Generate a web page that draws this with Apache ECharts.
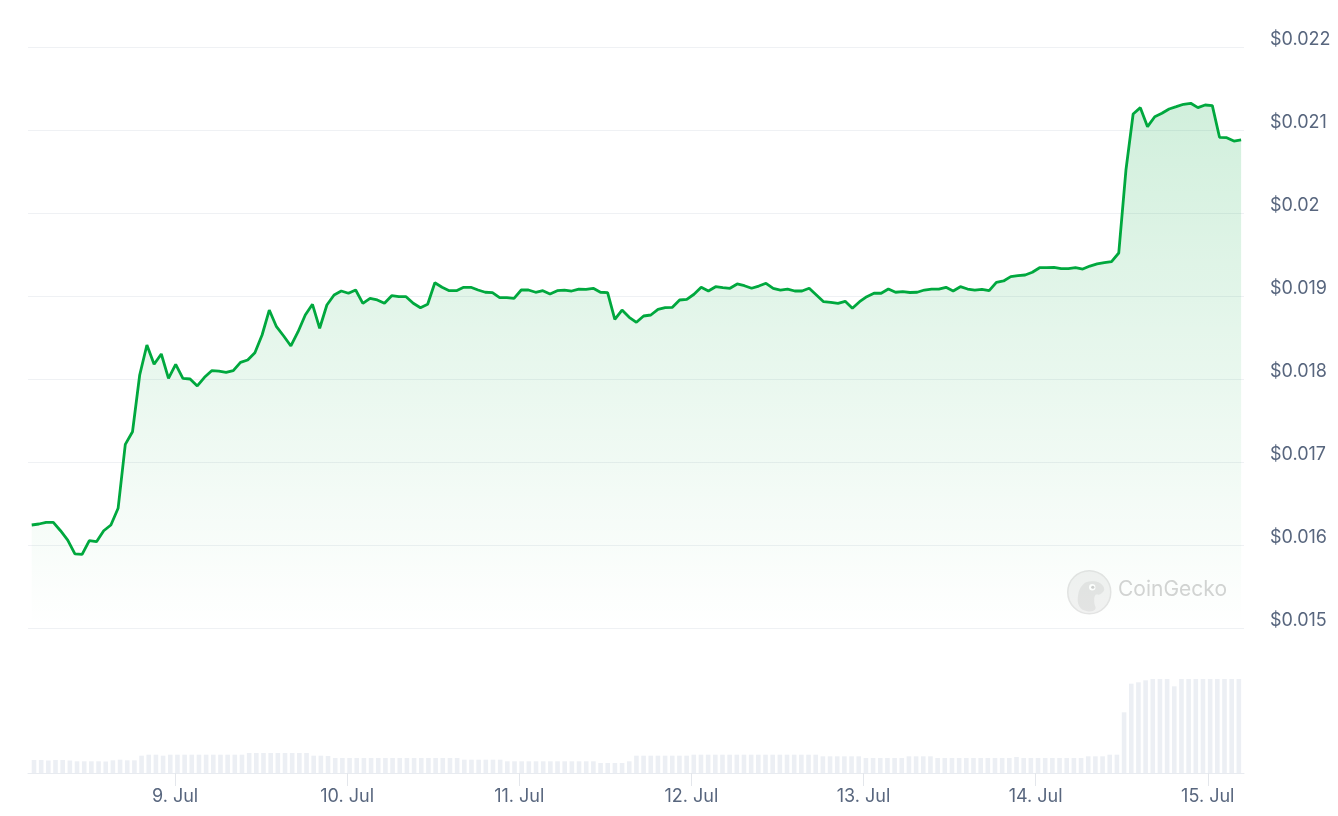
<!DOCTYPE html>
<html>
<head>
<meta charset="utf-8">
<script src="https://cdn.jsdelivr.net/npm/echarts@6/dist/echarts.min.js"></script>
<style>
  html, body { margin: 0; padding: 0; background: #ffffff; }
  #chart { width: 1338px; height: 816px; }
</style>
</head>
<body>
<div id="chart"></div>
<script>
// ---- Data (hourly, starting 8 Jul 04:20 UTC) ----
const startTime = Date.UTC(2024, 6, 8, 4, 20);
const hourMs = 3600 * 1000;

const prices = [
0.016241,0.016253,0.016273,0.016273,0.016172,0.016060,0.015892,0.015888,0.016052,0.016040,
0.016172,0.016241,0.016442,0.017213,0.017365,0.018048,0.018410,0.018177,0.018301,0.018008,
0.018177,0.018008,0.018000,0.017916,0.018020,0.018100,0.018096,0.018081,0.018100,0.018201,
0.018229,0.018317,0.018530,0.018831,0.018630,0.018518,0.018398,0.018570,0.018771,0.018900,
0.018611,0.018892,0.019012,0.019060,0.019033,0.019072,0.018912,0.018972,0.018952,0.018912,
0.019004,0.018992,0.018992,0.018912,0.018859,0.018900,0.019160,0.019105,0.019064,0.019064,
0.019105,0.019105,0.019072,0.019045,0.019040,0.018980,0.018980,0.018972,0.019072,0.019072,
0.019045,0.019064,0.019024,0.019064,0.019072,0.019060,0.019084,0.019081,0.019093,0.019045,
0.019040,0.018719,0.018831,0.018743,0.018683,0.018759,0.018771,0.018840,0.018859,0.018864,
0.018952,0.018960,0.019021,0.019105,0.019060,0.019112,0.019100,0.019093,0.019145,0.019124,
0.019093,0.019120,0.019153,0.019093,0.019072,0.019084,0.019060,0.019060,0.019093,0.019012,
0.018931,0.018924,0.018912,0.018936,0.018852,0.018931,0.018992,0.019033,0.019033,0.019084,
0.019045,0.019052,0.019042,0.019045,0.019072,0.019084,0.019084,0.019105,0.019060,0.019112,
0.019084,0.019072,0.019081,0.019064,0.019165,0.019181,0.019233,0.019245,0.019253,0.019286,
0.019341,0.019341,0.019346,0.019329,0.019329,0.019341,0.019325,0.019361,0.019386,0.019401,
0.019413,0.019518,0.020518,0.021193,0.021269,0.021040,0.021160,0.021201,0.021253,0.021281,
0.021310,0.021322,0.021269,0.021301,0.021293,0.020912,0.020907,0.020867,0.020880
];

const volumes = [
13,13,12.5,13,13,12.5,
11.7,11.7,11.7,11.7,11.5,
12.7,13.3,12.7,12.7,
17.3,18.3,18.3,17.3,18.3,18.3,18.3,18.3,18.3,18.3,18.3,18.3,18.3,18.3,18.3,
20,20,20,20,20,20,20,20,20,
17.3,17.3,17,
15,15,15,15,15,15,15,15,15,15,15,15,15,15,15,15,15,15,
13.3,13.3,13.3,13.3,13.3,13.3,
11.7,11.7,11.7,11.7,11.7,11.7,11.7,11.7,11.7,11.7,11.7,11.7,11.7,
10,10,10,10,
11.7,
17.3,17.3,17.3,17.3,17.3,17.3,17.3,17.3,
18.3,18.3,18.3,18.3,18.3,18.3,18.3,18.3,18.3,18.3,18.3,18.3,18.3,18.3,18.3,18.3,18.3,18.3,
16.7,16.7,16.7,16.7,16.7,16.7,
15,15,15,15,15,15,
16.7,16.7,16.7,16.7,
15,15,15,15,15,15,15,15,15,15,15,
16,
15,15,15,15,15,15,15,15,15,
16.7,16.7,16.7,
18.3,18.3,
60.7,89.3,90.7,92.7,94,94,94,86.7,
94,94,94,94,94,94,94,94,94
];

const priceTicks = { min: 0.015, max: 0.022, step: 0.001 };
const axisStart = Date.UTC(2024, 6, 8, 3, 49);
const axisEnd = Date.UTC(2024, 6, 15, 4, 44);
const monthNames = ['Jan','Feb','Mar','Apr','May','Jun','Jul','Aug','Sep','Oct','Nov','Dec'];

const priceData = prices.map((v, i) => [startTime + i * hourMs, v]);
const volumeData = volumes.map((v, i) => [startTime + i * hourMs, v]);

const chart = echarts.init(document.getElementById('chart'));
const labelColor = '#58667e';
const fontFamily = 'Inter, "Noto Sans", sans-serif';

chart.setOption({
  useUTC: true,
  animation: false,
  backgroundColor: '#ffffff',
  grid: [
    { left: 28, right: 94, top: 47, height: 581 },
    { left: 28, right: 94, top: 673, height: 100 }
  ],
  xAxis: [
    {
      type: 'time', gridIndex: 0, min: axisStart, max: axisEnd,
      axisLine: { show: false }, axisTick: { show: false },
      axisLabel: { show: false }, splitLine: { show: false }
    },
    {
      type: 'time', gridIndex: 1, min: axisStart, max: axisEnd,
      minInterval: 24 * hourMs, maxInterval: 24 * hourMs,
      axisLine: { show: true, lineStyle: { color: '#e8ebf0', width: 1 } },
      axisTick: { show: true, length: 13, lineStyle: { color: '#e3e6eb', width: 1 } },
      splitLine: { show: false },
      axisLabel: {
        color: labelColor, fontSize: 18, fontFamily: fontFamily, margin: 15,
        showMinLabel: false, showMaxLabel: false,
        formatter: function (val) {
          const d = new Date(val);
          return d.getUTCDate() + '. ' + monthNames[d.getUTCMonth()];
        }
      }
    }
  ],
  yAxis: [
    {
      type: 'value', gridIndex: 0, position: 'right',
      min: priceTicks.min, max: priceTicks.max, interval: priceTicks.step,
      axisLine: { show: false }, axisTick: { show: false },
      splitLine: { show: true, lineStyle: { color: '#eff1f4', width: 1 } },
      axisLabel: {
        color: labelColor, fontSize: 18, fontFamily: fontFamily, margin: 26,
        verticalAlign: 'bottom', lineHeight: 14,
        formatter: function (v) { return '$' + (+v.toFixed(3)); }
      }
    },
    {
      type: 'value', gridIndex: 1, min: 0, max: 100,
      axisLine: { show: false }, axisTick: { show: false },
      axisLabel: { show: false }, splitLine: { show: false }
    }
  ],
  graphic: [
    {
      type: 'group', left: 1067, top: 570, silent: true,
      children: [
        { type: 'circle', shape: { cx: 22, cy: 22, r: 21.5 }, style: { fill: '#f2f2f2', stroke: '#e4e4e4', lineWidth: 1.5 } },
        { type: 'polygon', shape: { smooth: 0.4, points: [[12, 36], [11, 24], [16, 14], [24, 11], [33, 13], [37, 19], [33, 24], [28, 25], [27, 32], [28, 39], [20, 41]] }, style: { fill: '#e4e4e4' } },
        { type: 'circle', shape: { cx: 25, cy: 17, r: 3.2 }, style: { fill: '#ffffff' } },
        { type: 'circle', shape: { cx: 25.5, cy: 17, r: 1.6 }, style: { fill: '#cfcfcf' } }
      ]
    },
    {
      type: 'text', left: 1118, top: 579, silent: true,
      style: { text: 'CoinGecko', fill: '#d4d4d4', fontSize: 21, fontFamily: fontFamily }
    }
  ],
  series: [
    {
      type: 'line', xAxisIndex: 0, yAxisIndex: 0,
      data: priceData, showSymbol: false, symbol: 'none',
      lineStyle: { color: '#00a83e', width: 2.8 },
      areaStyle: {
        color: {
          type: 'linear', x: 0, y: 0, x2: 0, y2: 1,
          colorStops: [
            { offset: 0, color: 'rgba(0,168,62,0.26)' },
            { offset: 1, color: 'rgba(0,168,62,0)' }
          ]
        }
      },
      z: 3
    },
    {
      type: 'bar', xAxisIndex: 1, yAxisIndex: 1,
      data: volumeData, barWidth: 4.6,
      itemStyle: { color: '#eceff4' }
    }
  ]
});
</script>
</body>
</html>
